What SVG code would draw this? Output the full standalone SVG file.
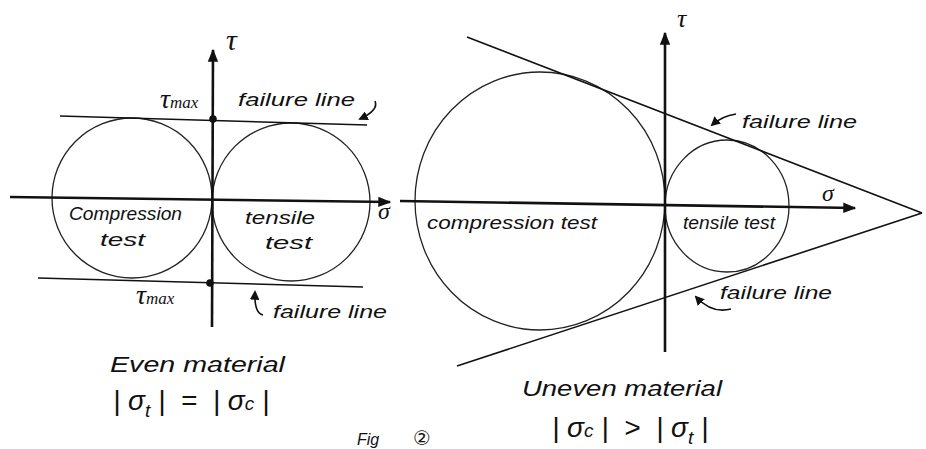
<svg xmlns="http://www.w3.org/2000/svg" width="926" height="449" viewBox="0 0 926 449">
<defs>
<style>
.t{font-family:"Liberation Sans","DejaVu Sans",sans-serif;font-style:italic;font-size:19px;fill:#111}
.g{font-family:"Liberation Serif","DejaVu Serif",serif;font-style:italic;fill:#111}
.eq{white-space:pre;font-size:28px}
.axis{stroke:#111;stroke-width:2.6;fill:none}
.fl{stroke:#111;stroke-width:1.6;fill:none}
.circ{stroke:#222;stroke-width:1.3;fill:none}
.pt{stroke:#111;stroke-width:1.6;fill:none}
</style>
<marker id="ah" viewBox="0 0 10 10" refX="8" refY="5" markerWidth="6" markerHeight="6" orient="auto">
<path d="M0,0 L10,5 L0,10 z" fill="#111"/>
</marker>
<marker id="axh" viewBox="0 0 10 10" refX="9" refY="5" markerWidth="5" markerHeight="5" orient="auto">
<path d="M0,1 L10,5 L0,9 z" fill="#111"/>
</marker>
</defs>
<rect width="926" height="449" fill="#fff"/>

<g id="left-diagram">
<g id="left-circles">
<circle class="circ" cx="132" cy="198" r="80"/>
<circle class="circ" cx="291" cy="202" r="79"/>
</g>
<g id="left-connectors">
<line class="axis" x1="212" y1="327" x2="213" y2="50" marker-end="url(#axh)"/>
<line class="axis" x1="10" y1="197" x2="390" y2="202" stroke-width="2" marker-end="url(#axh)"/>
<line class="fl" x1="60" y1="116" x2="367" y2="125"/>
<line class="fl" x1="38" y1="278" x2="363" y2="287"/>
<circle cx="213" cy="119" r="3.8" fill="#111"/>
<circle cx="210" cy="283" r="3.8" fill="#111"/>
<path class="pt" d="M375,101 Q379,110 360,119" marker-end="url(#ah)"/>
<path class="pt" d="M263,315 Q254,313 255,292" marker-end="url(#ah)"/>
</g>
<g id="left-labels">
<text class="g" x="226" y="50" style="font-size:30px">τ</text>
<text class="g" x="378" y="219" style="font-size:24px">σ</text>
<text class="g" x="160" y="108" style="font-size:28px">τ<tspan style="font-size:17px">max</tspan></text>
<text class="g" x="136" y="304" style="font-size:28px">τ<tspan style="font-size:17px">max</tspan></text>
<text class="t" x="238" y="106" textLength="117" lengthAdjust="spacingAndGlyphs">failure line</text>
<text class="t" x="273" y="318" textLength="114" lengthAdjust="spacingAndGlyphs">failure line</text>
<text class="t" x="69" y="220" textLength="113" lengthAdjust="spacingAndGlyphs">Compression</text>
<text class="t" x="100" y="246" textLength="45" lengthAdjust="spacingAndGlyphs">test</text>
<text class="t" x="245" y="224" textLength="70" lengthAdjust="spacingAndGlyphs">tensile</text>
<text class="t" x="265" y="249" textLength="47" lengthAdjust="spacingAndGlyphs">test</text>
<text class="t" x="110" y="372" style="font-size:22px" textLength="175" lengthAdjust="spacingAndGlyphs">Even material</text>
<text class="t eq" x="113" y="410">| σ<tspan style="font-size:19px" dy="7">t</tspan><tspan dy="-7"> |  =  | σ</tspan><tspan style="font-size:19px">c</tspan> |</text>
</g>
</g>

<g id="right-diagram">
<g id="right-circles">
<ellipse class="circ" cx="540" cy="201" rx="125" ry="129"/>
<ellipse class="circ" cx="727" cy="206" rx="62" ry="66"/>
</g>
<g id="right-connectors">
<line class="axis" x1="665" y1="352" x2="665" y2="33" marker-end="url(#axh)"/>
<line class="axis" x1="400" y1="201" x2="855" y2="208" stroke-width="2" marker-end="url(#axh)"/>
<line class="fl" x1="467" y1="37" x2="922" y2="213"/>
<line class="fl" x1="457" y1="366" x2="922" y2="213"/>
<path class="pt" d="M736,114 Q722,116 712,125" marker-end="url(#ah)"/>
<path class="pt" d="M731,309 Q712,314 696,297" marker-end="url(#ah)"/>
</g>
<g id="right-labels">
<text class="g" x="677" y="27" style="font-size:26px">τ</text>
<text class="g" x="822" y="201" style="font-size:24px">σ</text>
<text class="t" x="742" y="128" textLength="115" lengthAdjust="spacingAndGlyphs">failure line</text>
<text class="t" x="720" y="299" textLength="112" lengthAdjust="spacingAndGlyphs">failure line</text>
<text class="t" x="427" y="229" textLength="170" lengthAdjust="spacingAndGlyphs">compression test</text>
<text class="t" x="683" y="229" textLength="92" lengthAdjust="spacingAndGlyphs">tensile test</text>
<text class="t" x="522" y="396" style="font-size:22px" textLength="200" lengthAdjust="spacingAndGlyphs">Uneven material</text>
<text class="t eq" x="552" y="437">| σ<tspan style="font-size:19px">c</tspan> |  &gt;  | σ<tspan style="font-size:19px" dy="7">t</tspan><tspan dy="-7"> |</tspan></text>
</g>
</g>

<g id="caption">
<text class="t" x="357" y="445" style="font-size:16px">Fig</text>
<text class="t" x="413" y="445" style="font-size:20px;font-style:normal">②</text>
</g>
</svg>
